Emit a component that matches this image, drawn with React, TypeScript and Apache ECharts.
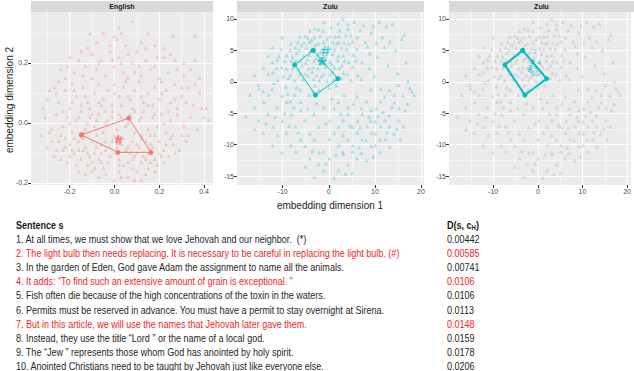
import React, { useEffect, useRef } from "react";
import * as echarts from "echarts";

const englishPoints: number[][] = [
  [-0.05,0.30],[0.0,0.29],[0.03,0.30],[0.08,0.34],[0.12,0.27],[0.18,0.26],[0.26,0.29],[-0.08,0.27],[0.05,0.26],[0.15,0.30],[-0.12,0.25],[0.22,0.25],[0.36,0.29],[0.01,0.28],[-0.02,0.26],
  [-0.20,0.22],[-0.15,0.24],[-0.10,0.23],[-0.06,0.21],[-0.02,0.24],[0.02,0.22],[0.06,0.23],[0.10,0.24],[0.14,0.21],[0.18,0.19],[0.22,0.22],[0.27,0.21],[0.31,0.16],[0.34,0.18],[0.36,0.21],[-0.24,0.18],[-0.18,0.17],[-0.13,0.19],[-0.08,0.18],[-0.04,0.16],[0.0,0.19],[0.04,0.17],[0.08,0.20],[0.12,0.16],[0.16,0.18],[0.24,0.17],[0.28,0.18],[-0.22,0.15],[-0.10,0.15],[0.06,0.15],[0.20,0.15],[-0.16,0.21],[0.11,0.19],[-0.01,0.21],
  [-0.27,0.12],[-0.30,0.08],[-0.25,0.07],[-0.22,0.11],[-0.19,0.13],[-0.17,0.09],[-0.14,0.12],[-0.12,0.07],[-0.09,0.10],[-0.07,0.13],[-0.05,0.08],[-0.03,0.11],[0.0,0.13],[0.02,0.09],[0.04,0.12],[0.07,0.08],[0.09,0.11],[0.11,0.14],[0.13,0.07],[0.15,0.10],[0.18,0.12],[0.20,0.08],[0.23,0.11],[0.25,0.07],[0.27,0.13],[0.30,0.09],[0.33,0.12],[0.35,0.06],[0.38,0.10],[-0.20,0.05],[-0.11,0.05],[-0.01,0.06],[0.08,0.05],[0.17,0.06],[0.28,0.05],[-0.26,0.10],[-0.15,0.06],[0.05,0.14],[0.21,0.14],[-0.06,0.06],[0.12,0.09],[0.32,0.07],[-0.18,0.11],[0.0,0.10],
  [-0.31,0.02],[-0.28,-0.02],[-0.26,0.03],[-0.23,-0.01],[-0.21,0.02],[-0.19,-0.03],[-0.17,0.01],[-0.15,0.04],[-0.13,-0.02],[-0.11,0.02],[-0.09,-0.01],[-0.07,0.03],[-0.05,-0.03],[-0.03,0.01],[-0.01,0.04],[0.01,-0.02],[0.03,0.02],[0.05,-0.01],[0.07,0.03],[0.09,-0.03],[0.11,0.01],[0.13,0.04],[0.15,-0.02],[0.17,0.02],[0.19,-0.01],[0.21,0.03],[0.23,-0.03],[0.25,0.01],[0.28,0.03],[0.31,-0.01],[0.34,0.02],[0.37,-0.02],[0.40,0.02],[0.42,0.01],[-0.33,-0.04],[-0.24,-0.04],[-0.14,-0.05],[-0.04,0.0],[0.06,0.0],[0.16,-0.04],[0.26,-0.04],[-0.20,0.0],[0.02,0.03],[0.12,-0.04],[-0.08,0.01],[0.22,0.0],[0.33,-0.04],[-0.12,0.0],
  [-0.30,-0.08],[-0.27,-0.11],[-0.25,-0.06],[-0.23,-0.09],[-0.21,-0.13],[-0.20,-0.07],[-0.18,-0.10],[-0.16,-0.06],[-0.15,-0.12],[-0.13,-0.08],[-0.12,-0.14],[-0.10,-0.06],[-0.09,-0.10],[-0.07,-0.12],[-0.06,-0.07],[-0.04,-0.09],[-0.03,-0.13],[-0.01,-0.06],[0.0,-0.10],[0.02,-0.12],[0.03,-0.07],[0.05,-0.09],[0.06,-0.13],[0.08,-0.06],[0.09,-0.11],[0.11,-0.08],[0.12,-0.13],[0.14,-0.06],[0.15,-0.10],[0.17,-0.08],[0.18,-0.12],[0.20,-0.06],[0.22,-0.09],[0.24,-0.11],[0.26,-0.07],[0.29,-0.09],[0.32,-0.06],[-0.22,-0.05],[-0.17,-0.14],[-0.11,-0.11],[-0.05,-0.15],[0.01,-0.08],[0.07,-0.10],[0.13,-0.11],[0.19,-0.14],[-0.28,-0.06],[-0.19,-0.09],[-0.14,-0.09],[-0.08,-0.08],[-0.02,-0.11],[0.04,-0.14],[0.10,-0.07],[0.16,-0.13],[0.21,-0.11],[-0.24,-0.12],[-0.06,-0.10],[0.08,-0.12],[0.23,-0.07],
  [-0.10,-0.16],[-0.04,-0.17],[0.02,-0.16],[0.06,-0.18],[0.10,-0.16],[0.14,-0.17],[-0.16,-0.16],[0.0,-0.19],[0.12,-0.19],[0.18,-0.16],[-0.07,-0.18],
  [-0.29,-0.03],[-0.26,-0.09],[-0.22,-0.08],[-0.20,-0.11],[-0.18,-0.05],[-0.16,-0.09],[-0.14,-0.03],[-0.12,-0.10],[-0.10,-0.13],[-0.08,-0.04],[-0.06,-0.13],[-0.04,-0.06],[-0.02,-0.08],[0.0,-0.04],[0.02,-0.14],[0.04,-0.05],[0.06,-0.08],[0.08,-0.15],[0.10,-0.10],[0.12,-0.05],[0.14,-0.12],[0.16,-0.07],[0.18,-0.04],[0.20,-0.10],[0.22,-0.13],[0.25,-0.05],[0.27,-0.10],[0.30,-0.04],
  [-0.23,0.04],[-0.19,0.07],[-0.16,0.02],[-0.13,0.09],[-0.10,0.03],[-0.07,0.07],[-0.04,0.04],[-0.01,0.02],[0.03,0.06],[0.06,0.09],[0.09,0.04],[0.12,0.02],[0.15,0.06],[0.18,0.03],[0.21,0.10],[0.24,0.04],[0.27,0.08],[0.30,0.12],[0.36,0.13],[0.39,0.05],
  [-0.25,0.14],[-0.21,0.19],[-0.14,0.16],[-0.07,0.20],[0.03,0.20],[0.09,0.17],[0.14,0.25],[0.19,0.22],[0.25,0.23],[0.31,0.20],[-0.11,0.30],[0.02,0.32],[-0.32,0.05],[-0.29,0.11],[0.41,0.05],[0.38,0.15],[-0.09,-0.15],[0.03,-0.18],[0.09,-0.19],[-0.13,-0.17],[0.15,-0.15]
];

const zuluPoints: number[][] = [
  [-10.2,2.3],[-9.1,4.2],[-8.3,1.1],[-7.2,5.4],[-6.1,3.3],[-5.3,6.2],[-4.4,2.1],[-3.2,7.1],[-2.3,4.4],[-1.1,6.3],[0.2,3.2],[1.3,5.1],[2.2,7.3],[3.1,4.2],[4.3,6.1],[5.2,2.4],[-11.1,0.3],[-9.3,-0.8],[-7.4,0.2],[-5.2,1.3],[-3.3,0.4],[-1.2,1.2],[1.1,0.3],[3.2,1.4],[5.3,4.3],[6.2,7.1],[-8.2,6.1],[-6.3,7.2],[-4.1,8.1],[-2.2,8.3],[0.3,7.2],[2.4,8.2],[4.2,8.4],[-10.3,5.2],[-12.2,3.1],[-6.2,-1.2],[-4.3,-2.1],[-2.1,-1.3],[0.1,-0.9],[2.3,2.2],[4.1,1.2],[-8.1,3.3],[-6.4,5.1],[-4.2,4.3],[-2.4,2.2],[0.4,5.3],[2.1,4.1],[-9.2,2.1],[-7.1,3.4],[-5.4,4.2],[-3.1,5.3],[-1.3,3.1],[1.2,2.3],[3.3,6.2],[-11.3,2.2],[-7.3,-2.1],[-3.4,2.3],[-1.2,8.1],[1.4,7.2],[3.4,3.3],[-5.1,7.3],[-3.2,3.4],[0.3,1.2],[6.1,5.2],[7.2,3.1],[-13.1,1.2],[-12.3,-1.1],[-10.2,-2.2],[-8.3,-3.1],[-6.1,-3.2],[-2.3,6.1],[-4.2,6.3],[-6.3,1.2],[-8.4,5.1],[-1.4,5.2],[2.2,6.3],[5.1,6.4],[4.3,3.2],[6.3,1.1],[-2.1,0.2],
  [-5.8,2.6],[-4.7,3.6],[-3.6,1.6],[-2.7,3.8],[-1.8,4.7],[-0.7,2.4],[0.8,4.4],[1.7,6.1],[2.8,5.3],[-6.9,4.6],[-7.8,2.2],[-9.6,3.3],[-4.9,5.4],[-3.8,6.6],[-0.4,6.8],[3.7,7.4],[-1.6,0.8],[-5.6,0.4],[-8.7,0.6],[0.9,1.6],[-2.9,5.9],[-6.7,6.3],
  [-6.6,2.0],[-5.0,3.0],[-3.9,4.9],[-2.0,3.4],[-0.9,4.0],[0.6,2.8],[1.9,3.4],[2.9,2.6],[-4.6,1.0],[-3.0,-0.6],[-0.4,0.1],[1.6,-0.6],[-7.9,4.0],[-9.8,0.9],[-10.8,4.1],[-5.9,5.8],[-4.5,7.0],[-1.9,7.3],[0.9,6.3],[3.9,5.2],[4.8,7.4],[5.8,3.4],[-2.6,1.0],[-8.9,-1.9],[-11.9,-0.2],[-7.0,-0.9],[-3.5,-1.5],[2.7,0.6],[4.9,0.2],
  [7.5,9.0],[9.2,7.8],[11.0,9.6],[12.5,8.8],[13.8,9.2],[10.3,6.2],[14.5,5.0],[15.8,6.8],[8.4,5.6],[12.1,5.5],[16.4,7.5],[9.7,8.9],[6.8,8.2],[11.6,7.1],[13.2,6.4],[8.9,4.5],[5.5,9.5],[7.9,6.3],[8.8,2.2],[10.6,4.0],[7.0,0.4],[9.9,0.9],[12.8,2.6],[14.9,1.4],[16.8,3.1],
  [2.1,-3.2],[4.2,-4.1],[6.1,-2.3],[8.2,-3.1],[10.3,-4.2],[12.1,-2.4],[14.2,-3.3],[16.1,-2.2],[18.0,-1.5],[17.1,-3.5],[3.2,-6.1],[5.1,-7.2],[7.3,-5.1],[9.1,-6.2],[11.2,-7.1],[13.1,-5.3],[15.2,-6.1],[1.2,-8.1],[4.1,-9.2],[6.2,-8.1],[8.1,-9.3],[10.2,-8.2],[12.3,-9.1],[14.1,-8.2],[16.2,-7.1],[3.1,-11.2],[5.2,-10.1],[7.1,-11.3],[9.2,-10.2],[11.1,-11.1],[13.2,-10.3],[6.1,-12.2],[8.2,-12.5],[2.2,-10.1],[0.2,-6.1],[1.1,-4.2],[3.3,-2.1],[9.1,-1.2],[11.3,-1.1],[13.1,-1.3],[15.1,-0.5],[17.2,0.1],[18.5,-2.1],[15.3,-4.2],[12.2,-6.1],[10.1,-6.3],[8.3,-7.1],[6.3,-6.2],[4.2,-5.1],[2.1,-7.2],[7.2,-9.1],[9.3,-8.1],[11.1,-9.2],[5.1,-11.1],[17.5,-1.0],[14.2,-2.1],[16.5,-4.5],[11.2,-3.1],[7.1,-4.2],[9.2,-4.5],[5.3,-3.5],[3.1,-8.5],[13.2,-7.1],[10.1,-10.1],[15.5,-9.1],
  [11.8,-4.8],[13.7,-4.0],[8.7,-5.6],[6.8,-7.3],[4.6,-6.9],[10.7,-5.4],[14.8,-7.4],[12.6,-8.0],[9.6,-11.9],[2.6,-5.1],[0.6,-2.6],[-0.6,-6.6],[-2.6,-3.4],[-4.6,-4.2],[-7.6,-4.0],[-9.6,-5.0],[-11.6,-5.6],[-13.6,-6.6],[-8.6,-7.0],[-6.6,-8.0],[-3.6,-11.0],[1.6,-11.6],[-0.6,-13.0],[3.6,-14.6],[6.6,-10.4],
  [-18.0,-5.5],[-16.1,-4.1],[-15.2,-6.1],[-14.1,-3.2],[-13.2,-5.1],[-12.1,-7.2],[-11.2,-4.1],[-10.1,-6.2],[-9.2,-8.1],[-8.1,-5.2],[-7.2,-7.1],[-6.1,-9.2],[-14.2,-8.1],[-12.2,-10.1],[-10.1,-11.2],[-8.2,-10.1],[-16.1,-7.5],[-5.2,-6.1],[-4.1,-8.2],[-6.1,-4.5],[-9.1,-3.2],[-11.1,-8.5],[-13.1,-2.1],[-15.1,-1.1],[-7.1,-11.1],[-5.1,-10.2],[-3.2,-5.1],[-2.1,-7.2],[-1.1,-4.1],[0.1,-9.1],[-3.1,-9.2],[-1.2,-11.1],
  [-4.1,-12.2],[-2.2,-13.1],[0.1,-12.2],[2.1,-14.1],[4.2,-13.1],[-3.1,-15.1],[1.1,-15.2],[3.2,-11.5],[5.1,-14.5],[-1.1,-14.1],[-5.1,-13.5],[-2.1,-11.2],
  [-16.1,1.1],[-15.2,-0.5],[-14.1,2.2],[-13.2,4.1],[-12.1,1.5],[-11.2,3.5],[-17.1,-2.1],[-14.2,-1.5],[-12.2,5.5],[-10.1,7.1],
  [-1.1,9.5],[2.1,9.3],[0.5,8.7],[-3.1,8.5],[4.1,9.2],[3.1,10.0]
];

const englishHull: number[][] = [[-0.148,-0.04],[0.064,0.016],[0.163,-0.098],[0.015,-0.098]];
const zuluHull: number[][] = [[-3.4,5.0],[-7.4,2.7],[-2.9,-2.1],[1.96,0.5]];
const englishMarkNames = ["#", "*"];
const englishMarkXY: number[][] = [[0.02,-0.057],[0.017,-0.062]];
const zuluMarkNames = ["#", "*"];
const zuluMarkXY: number[][] = [[-0.7,5.0],[-1.5,2.6]];
const sentenceIds = ["1","2","3","4","5","6","7","8","9","10"];
const sentenceXY: number[][] = [[-1.4,2.8],[-0.7,4.8],[-1.8,2.3],[0.3,3.1],[-1.2,3.3],[-1.6,1.8],[-0.9,3.0],[-1.9,2.0],[-0.4,2.1],[-0.6,1.4]];

const panelTitles = ["English", "Zulu", "Zulu"];
const englishXTicks = [-0.2, 0, 0.2, 0.4];
const englishXMinor = [-0.3, -0.1, 0.1, 0.3];
const englishYTicks = [-0.2, 0, 0.2];
const englishYMinor = [-0.1, 0.1, 0.3];
const zuluXTicks = [-10, 0, 10, 20];
const zuluXMinor = [-15, -5, 5, 15];
const zuluYTicks = [-15, -10, -5, 0, 5, 10];
const zuluYMinor = [-12.5, -7.5, -2.5, 2.5, 7.5];

const sentences = [
  "1. At all times, we must show that we love Jehovah and our neighbor.  (*)",
  "2. The light bulb then needs replacing. It is necessary to be careful in replacing the light bulb. (#)",
  "3. In the garden of Eden, God gave Adam the assignment to name all the animals.",
  "4. It adds: \u201cTo find such an extensive amount of grain is exceptional. \u201d",
  "5. Fish often die because of the high concentrations of the toxin in the waters.",
  "6. Permits must be reserved in advance. You must have a permit to stay overnight at Sirena.",
  "7. But in this article, we will use the names that Jehovah later gave them.",
  "8. Instead, they use the title \u201cLord \u201d or the name of a local god.",
  "9. The \u201cJew \u201d represents those whom God has anointed by holy spirit.",
  "10. Anointed Christians need to be taught by Jehovah just like everyone else.",
];
const distances = ["0.00442","0.00585","0.00741","0.0106","0.0106","0.0113","0.0148","0.0159","0.0178","0.0206"];
const highlighted = [false, true, false, true, false, false, true, false, false, false];

const GRIDS = [
  { left: 31, top: 12, width: 182, height: 173 },
  { left: 237, top: 12, width: 187, height: 173 },
  { left: 449, top: 12, width: 185, height: 173 },
];
const RED = "#F8766D";
const CYAN = "#00BFC4";
const AXFONT = "Liberation Sans, Arial, sans-serif";
const TABLEFONT = "'Liberation Sans', Arial, sans-serif";
const TABLESIZE = 10.5;

function axisPair(dim: "x" | "y", grid: number, min: number, max: number, major: number[], minor: number[], fmt: (v: number) => string) {
  return [
    {
      type: "value", gridIndex: grid, min, max,
      position: dim === "x" ? "bottom" : "left",
      axisLine: { show: false, onZero: false },
      axisTick: { show: true, length: 3, lineStyle: { color: "#333333", width: 1 }, customValues: major },
      axisLabel: { show: true, customValues: major, formatter: fmt, color: "#4D4D4D", fontSize: 7, margin: 3, fontFamily: AXFONT },
      splitLine: { show: true, lineStyle: { color: "#FFFFFF", width: 1 } },
    },
    {
      type: "value", gridIndex: grid, min, max,
      position: dim === "x" ? "top" : "right",
      axisLine: { show: false, onZero: false },
      axisTick: { show: false, customValues: minor },
      axisLabel: { show: false, customValues: minor },
      splitLine: { show: true, lineStyle: { color: "#FFFFFF", width: 0.5 } },
    },
  ];
}

const f1 = (v: number) => v.toFixed(1);
const f0 = (v: number) => String(Math.round(v));

function marks(names: string[], xy: number[][]) {
  return names.map((n, i) => ({ name: n, value: xy[i] }));
}

function measure(text: string, font: string): number {
  const c = document.createElement("canvas").getContext("2d");
  if (!c) return 0;
  c.font = font;
  return c.measureText(text).width;
}

export default function App() {
  const ref = useRef<HTMLDivElement>(null);
  useEffect(() => {
    if (!ref.current) return;
    const chart = echarts.init(ref.current, undefined, { renderer: "svg" });
    const xAxis = [
      ...axisPair("x", 0, -0.373, 0.44, englishXTicks, englishXMinor, f1),
      ...axisPair("x", 1, -19.9, 20.65, zuluXTicks, zuluXMinor, f0),
      ...axisPair("x", 2, -19.9, 20.9, zuluXTicks, zuluXMinor, f0),
    ];
    const yAxis = [
      ...axisPair("y", 0, -0.207, 0.37, englishYTicks, englishYMinor, f1),
      ...axisPair("y", 1, -16.4, 11.1, zuluYTicks, zuluYMinor, f0),
      ...axisPair("y", 2, -16.4, 11.1, zuluYTicks, zuluYMinor, f0),
    ];
    const hullSeries = (pts: number[][], ax: number, color: string, w: number) => ({
      type: "line", xAxisIndex: ax, yAxisIndex: ax, data: [...pts, pts[0]],
      symbol: "circle", symbolSize: 5, showSymbol: true,
      lineStyle: { color, width: w }, itemStyle: { color }, silent: true, z: 3,
    });
    const markSeries = (data: any[], ax: number, color: string, sizes: number[], bold: boolean) => ({
      type: "scatter", xAxisIndex: ax, yAxisIndex: ax, symbolSize: 1, silent: true, z: 4,
      itemStyle: { color: "rgba(0,0,0,0)" },
      labelLayout: { hideOverlap: false },
      data: data.map((d, i) => ({
        ...d,
        label: {
          show: true, position: "inside", formatter: "{b}", color,
          fontSize: sizes[i], fontFamily: AXFONT, fontWeight: bold ? "bold" : "normal",
          offset: d.name === "*" ? [0, sizes[i] * 0.22] : [0, 0],
        },
      })),
    });

    const tableFont = `${TABLESIZE}px ${TABLEFONT}`;
    const w2 = measure(sentences[1], tableFont);
    const sx = w2 > 0 ? 384 / w2 : 0.82;

    const table: any[] = [];
    table.push({
      type: "text", x: 16, y: 225, scaleX: sx,
      style: { text: "Sentence s", fill: "#1a1a1a", font: `bold ${TABLESIZE}px ${TABLEFONT}`, verticalAlign: "middle", align: "left" },
    });
    table.push({
      type: "text", x: 447, y: 225, scaleX: sx,
      style: {
        text: "{b|D(s, c}{s|H}{b|)}", verticalAlign: "middle", align: "left",
        rich: {
          b: { fontSize: TABLESIZE, fontWeight: "bold", fontFamily: TABLEFONT, fill: "#1a1a1a", color: "#1a1a1a" },
          s: { fontSize: 7, fontWeight: "bold", fontFamily: TABLEFONT, fill: "#1a1a1a", color: "#1a1a1a", padding: [5, 0, 0, 0] },
        },
      },
    });
    sentences.forEach((s, i) => {
      const y = 239.5 + i * 14.05;
      const col = highlighted[i] ? "#F01E1E" : "#262626";
      table.push({ type: "text", x: 16, y, scaleX: sx, style: { text: s, fill: col, font: tableFont, verticalAlign: "middle", align: "left" } });
      table.push({ type: "text", x: 447, y, scaleX: sx, style: { text: distances[i], fill: col, font: tableFont, verticalAlign: "middle", align: "left" } });
    });
    const strips: any[] = GRIDS.map((g, i) => ({
      type: "group",
      children: [
        { type: "rect", shape: { x: g.left, y: 1, width: g.width, height: 11 }, style: { fill: "#D9D9D9" } },
        { type: "text", x: g.left + g.width / 2, y: 6.8, style: { text: panelTitles[i], fill: "#1A1A1A", font: `bold 7px ${AXFONT}`, align: "center", verticalAlign: "middle" } },
      ],
    }));
    const option: any = {
      animation: false,
      backgroundColor: "#FFFFFF",
      grid: GRIDS.map((g) => ({ ...g, show: true, backgroundColor: "#EBEBEB", borderWidth: 0, containLabel: false })),
      xAxis,
      yAxis,
      series: [
        { type: "scatter", xAxisIndex: 0, yAxisIndex: 0, data: englishPoints, symbol: "triangle", symbolSize: 4, itemStyle: { color: "rgba(248,118,109,0.38)" }, silent: true, z: 2 },
        hullSeries(englishHull, 0, RED, 1),
        markSeries(marks(englishMarkNames, englishMarkXY), 0, RED, [13, 20], true),
        { type: "scatter", xAxisIndex: 2, yAxisIndex: 2, data: zuluPoints, symbol: "triangle", symbolSize: 4, itemStyle: { color: "rgba(0,191,196,0.38)" }, silent: true, z: 2 },
        hullSeries(zuluHull, 2, CYAN, 1),
        markSeries(marks(zuluMarkNames, zuluMarkXY), 2, CYAN, [15, 24], true),
        { type: "scatter", xAxisIndex: 4, yAxisIndex: 4, data: zuluPoints, symbol: "triangle", symbolSize: 4, itemStyle: { color: "rgba(165,165,165,0.42)" }, silent: true, z: 2 },
        hullSeries(zuluHull, 4, CYAN, 2),
        markSeries(marks(sentenceIds, sentenceXY), 4, CYAN, sentenceIds.map(() => 6.5), false),
      ],
      graphic: [
        ...strips,
        { type: "text", x: 330, y: 205, style: { text: "embedding dimension 1", fill: "#1a1a1a", font: `10px ${AXFONT}`, align: "center", verticalAlign: "middle" } },
        { type: "text", x: 9, y: 100, rotation: Math.PI / 2, style: { text: "embedding dimension 2", fill: "#1a1a1a", font: `10px ${AXFONT}`, align: "center", verticalAlign: "middle" } },
        ...table,
      ],
    };
    chart.setOption(option);
    return () => chart.dispose();
  }, []);
  return <div ref={ref} style={{ position: "fixed", left: 0, top: 0, width: 634, height: 371 }} />;
}
